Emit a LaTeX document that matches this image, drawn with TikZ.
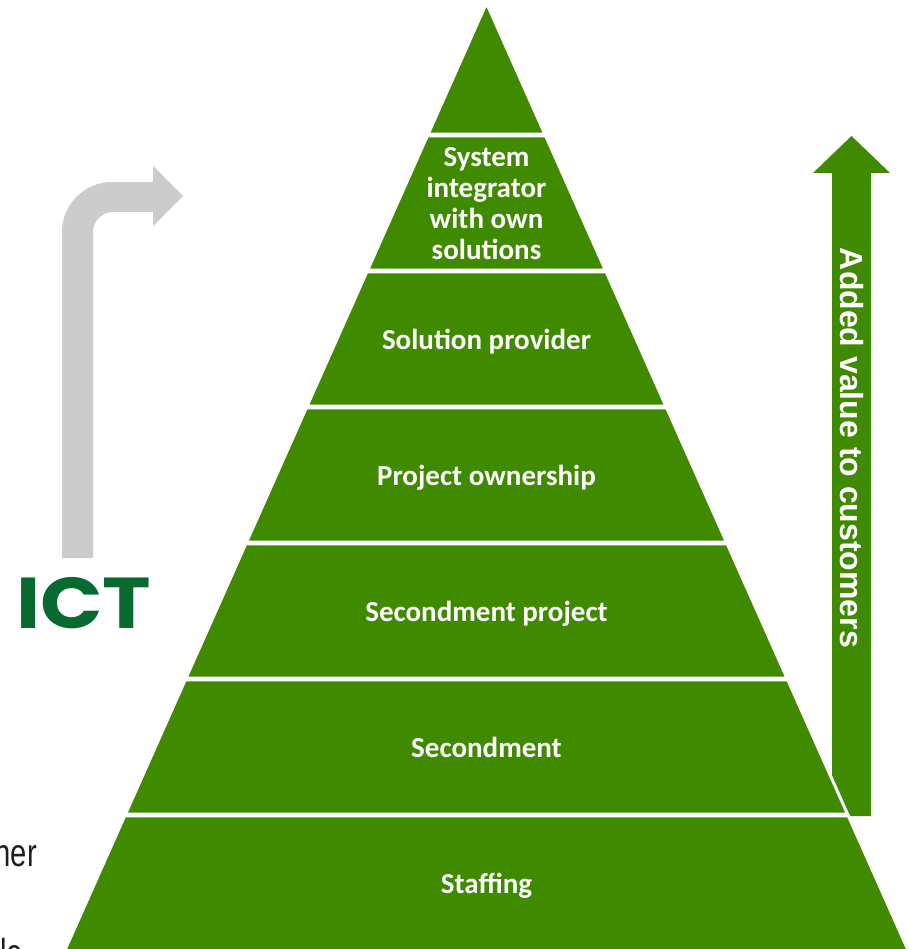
\documentclass[tikz,border=0pt]{standalone}
\usepackage{fontspec}
\setmainfont{Carlito}
\newfontfamily\arialfont{Liberation Sans}
\newfontfamily\ictfont{Poppins}
\definecolor{pgreen}{RGB}{64,138,0}
\definecolor{ictgreen}{RGB}{8,106,48}
\definecolor{arrowgray}{RGB}{204,204,204}
\definecolor{inkgray}{RGB}{30,30,30}

\begin{document}
\begin{tikzpicture}[x=1pt,y=-1pt,
  band/.style={fill=pgreen, draw=white, line width=3pt, line join=miter},
  tierlabel/.style={text=white, font=\bfseries\fontsize{29}{31}\selectfont, align=center, inner sep=0pt},
  sidetext/.style={inner sep=0pt, text=inkgray, xscale=0.75, transform shape,
                   font=\arialfont\fontsize{39}{42}\selectfont},
]
\useasboundingbox (0,0) rectangle (908,949);

% bent grey arrow on the left
\fill[arrowgray] (62,558) -- (62,232)
  .. controls (62,204.4) and (84.4,182) .. (112,182)
  -- (153,182) -- (153,166) -- (183,196) -- (153,226) -- (153,212)
  -- (113,212) .. controls (102,212) and (93,221) .. (93,232)
  -- (93,558) -- cycle;

% green value arrow on the right
\fill[pgreen] (832,816) -- (832,173) -- (813,173) -- (851.5,136)
  -- (890,173) -- (871,173) -- (871,816) -- cycle;

% pyramid tiers
\foreach \t/\b in {3/134.2, 135.8/270.2, 271.8/406.2, 407.8/542.2,
                   543.8/678.2, 679.8/814.2, 815.8/970} {
  \pgfmathsetmacro\lt{486.5-0.4451*(\t-3)}
  \pgfmathsetmacro\rt{486.5+0.4451*(\t-3)}
  \pgfmathsetmacro\lb{486.5-0.4451*(\b-3)}
  \pgfmathsetmacro\rb{486.5+0.4451*(\b-3)}
  \filldraw[band] (\lt,\t) -- (\rt,\t) -- (\rb,\b) -- (\lb,\b) -- cycle;
}

% tier labels
\node[tierlabel, anchor=center] (integrator) at (486.5,203.7)
  {System\\integrator\\with own\\solutions};
\node[tierlabel, anchor=base] (provider) at (486.5,349) {Solution provider};
\node[tierlabel, anchor=base] (ownership) at (486.5,485) {Project ownership};
\node[tierlabel, anchor=base] (secproject) at (486.5,621) {Secondment project};
\node[tierlabel, anchor=base] (secondment) at (486.5,757) {Secondment};
\node[tierlabel, anchor=base] (staffing) at (486.5,893) {Staffing};

% arrow caption
\node[rotate=-90, anchor=base, inner sep=0pt, text=white,
      font=\arialfont\bfseries\fontsize{32}{36}\selectfont]
  (added) at (840,448) {Added value to customers};

% ICT mark
\node[anchor=base west, inner sep=0pt, text=ictgreen, xscale=1.14, transform shape,
      font=\ictfont\bfseries\fontsize{72}{72}\selectfont]
  (ict) at (16,628) {ICT};

% text fragments at the left edge
\node[sidetext, anchor=base east] (ner) at (37,866) {ner};
\node[sidetext, anchor=base east] (le) at (23,966) {le};
\end{tikzpicture}
\end{document}
